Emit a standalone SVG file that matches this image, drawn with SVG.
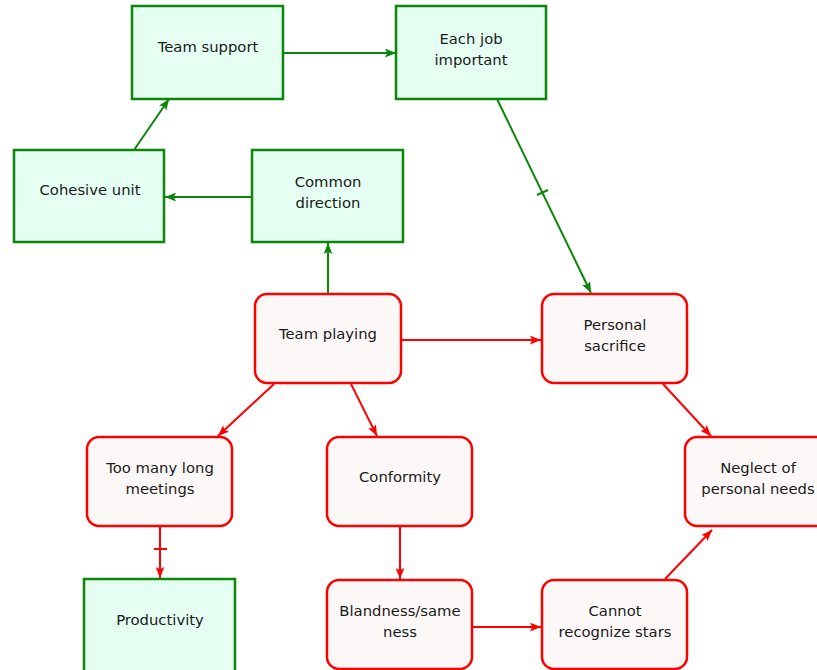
<svg xmlns="http://www.w3.org/2000/svg" width="817" height="670" viewBox="0 0 817 670">
  <style>
    .g rect { fill: #e6fff3; stroke: #0a870a; stroke-width: 2.5; }
    .r rect { fill: #fdf8f8; stroke: #ff0000; stroke-width: 2.5; }
    text { font-family: "DejaVu Sans", "Liberation Sans", sans-serif; font-size: 14.8px; fill: #1a1a1a; text-anchor: middle; }
    .cg { stroke: #0a870a; stroke-width: 2; fill: none; }
    .cr { stroke: #ff0000; stroke-width: 2; fill: none; }
  </style>
  <defs>
    <marker id="ag" viewBox="0 0 10 8" refX="10" refY="4" markerWidth="11" markerHeight="9" markerUnits="userSpaceOnUse" orient="auto">
      <path d="M0,0 L10,4 L0,8 L2,4 Z" fill="#0a870a"/>
    </marker>
    <marker id="ar" viewBox="0 0 10 8" refX="10" refY="4" markerWidth="11" markerHeight="9" markerUnits="userSpaceOnUse" orient="auto">
      <path d="M0,0 L10,4 L0,8 L2,4 Z" fill="#ff0000"/>
    </marker>
  </defs>

  <rect width="817" height="670" fill="#ffffff"/>

  <!-- connectors -->
  <g id="connectors">
    <line class="cg" x1="283" y1="53" x2="396" y2="53" marker-end="url(#ag)"/>
    <line class="cg" x1="134" y1="150" x2="169" y2="99" marker-end="url(#ag)"/>
    <line class="cg" x1="252" y1="197" x2="165" y2="197" marker-end="url(#ag)"/>
    <line class="cg" x1="328" y1="294" x2="328" y2="243" marker-end="url(#ag)"/>
    <line class="cg" x1="497" y1="99" x2="591" y2="293" marker-end="url(#ag)"/>
    <line class="cg" x1="537" y1="195" x2="548" y2="190"/>
    <line class="cr" x1="401" y1="340" x2="541" y2="340" marker-end="url(#ar)"/>
    <line class="cr" x1="274" y1="384" x2="218" y2="436" marker-end="url(#ar)"/>
    <line class="cr" x1="351" y1="384" x2="377" y2="436" marker-end="url(#ar)"/>
    <line class="cr" x1="663" y1="384" x2="711" y2="436" marker-end="url(#ar)"/>
    <line class="cr" x1="160" y1="527" x2="160" y2="578" marker-end="url(#ar)"/>
    <line class="cr" x1="154" y1="549" x2="167" y2="549"/>
    <line class="cr" x1="400" y1="527" x2="400" y2="579" marker-end="url(#ar)"/>
    <line class="cr" x1="472" y1="627" x2="541" y2="627" marker-end="url(#ar)"/>
    <line class="cr" x1="665" y1="579" x2="712" y2="530" marker-end="url(#ar)"/>
  </g>

  <!-- green nodes -->
  <g id="team-support" class="g">
    <rect x="132" y="6" width="151" height="93"/>
    <text x="208" y="52">Team support</text>
  </g>
  <g id="each-job-important" class="g">
    <rect x="396" y="6" width="150" height="93"/>
    <text x="471" y="44">Each job</text>
    <text x="471" y="65">important</text>
  </g>
  <g id="cohesive-unit" class="g">
    <rect x="14" y="150" width="150" height="92"/>
    <text x="90" y="195">Cohesive unit</text>
  </g>
  <g id="common-direction" class="g">
    <rect x="252" y="150" width="151" height="92"/>
    <text x="328" y="187">Common</text>
    <text x="328" y="208">direction</text>
  </g>
  <g id="productivity" class="g">
    <rect x="84" y="579" width="151" height="100"/>
    <text x="160" y="625">Productivity</text>
  </g>

  <!-- red nodes -->
  <g id="team-playing" class="r">
    <rect x="255" y="294" width="146" height="89" rx="12"/>
    <text x="328" y="339">Team playing</text>
  </g>
  <g id="personal-sacrifice" class="r">
    <rect x="542" y="294" width="145" height="89" rx="12"/>
    <text x="615" y="330">Personal</text>
    <text x="615" y="351">sacrifice</text>
  </g>
  <g id="too-many-long-meetings" class="r">
    <rect x="87" y="437" width="145" height="89" rx="12"/>
    <text x="160" y="473">Too many long</text>
    <text x="160" y="494">meetings</text>
  </g>
  <g id="conformity" class="r">
    <rect x="327" y="437" width="145" height="89" rx="12"/>
    <text x="400" y="482">Conformity</text>
  </g>
  <g id="neglect-of-personal-needs" class="r">
    <rect x="685" y="437" width="145" height="89" rx="12"/>
    <text x="758" y="473">Neglect of</text>
    <text x="758" y="494">personal needs</text>
  </g>
  <g id="blandness-sameness" class="r">
    <rect x="327" y="580" width="145" height="89" rx="12"/>
    <text x="400" y="616">Blandness/same</text>
    <text x="400" y="637">ness</text>
  </g>
  <g id="cannot-recognize-stars" class="r">
    <rect x="542" y="580" width="145" height="89" rx="12"/>
    <text x="615" y="616">Cannot</text>
    <text x="615" y="637">recognize stars</text>
  </g>
</svg>
